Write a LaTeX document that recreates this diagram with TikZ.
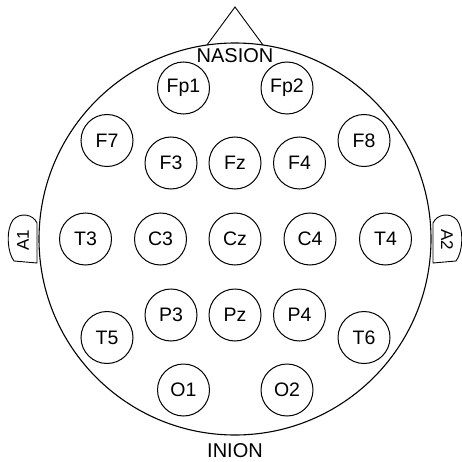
\documentclass[tikz,border=0pt]{standalone}
\usepackage{fontspec}
\setmainfont{Liberation Sans}
\begin{document}
\begin{tikzpicture}[x=1pt,y=-1pt,
  elec/.style={draw,circle,line width=1pt,minimum size=52pt,inner sep=0pt,font=\fontsize{19.5}{20}\selectfont},
  lbl/.style={inner sep=0pt,anchor=base,font=\fontsize{20}{21}\selectfont},
  earlbl/.style={inner sep=0pt,font=\fontsize{17}{18}\selectfont}]
\useasboundingbox (0,0) rectangle (462,462);
\fill[white] (0,0) rectangle (462,462);
% head
\node[draw,circle,line width=1.1pt,minimum size=392pt,inner sep=0pt] (head) at (235,239) {};
% nose
\coordinate (nl) at (207,45);
\coordinate (nr) at (263,45);
\coordinate (nt) at (235,7);
\draw[line width=0.9pt] (nl) -- (nt) -- (nr);
\node[lbl] (nasion) at (235,63) {NASION};
\node[lbl] (inion) at (235,457) {INION};
% electrodes
\node[elec] (Fp1) at (183.5,88) {Fp1};
\node[elec] (Fp2) at (287,88) {Fp2};
\node[elec] (F7) at (107,140.5) {F7};
\node[elec] (F8) at (364,140.5) {F8};
\node[elec] (F3) at (171,163) {F3};
\node[elec] (Fz) at (235,163) {Fz};
\node[elec] (F4) at (299.5,163) {F4};
\node[elec] (T3) at (85.5,239) {T3};
\node[elec] (C3) at (160.5,239) {C3};
\node[elec] (Cz) at (235,239) {Cz};
\node[elec] (C4) at (310,239) {C4};
\node[elec] (T4) at (385.5,239) {T4};
\node[elec] (P3) at (171,315) {P3};
\node[elec] (Pz) at (235,315) {Pz};
\node[elec] (P4) at (299.5,315) {P4};
\node[elec] (T5) at (107,337.5) {T5};
\node[elec] (T6) at (364,337.5) {T6};
\node[elec] (O1) at (183.5,390) {O1};
\node[elec] (O2) at (287,390) {O2};
% ears
\draw[line width=0.9pt] (37,223) .. controls (33,214) and (20,212) .. (13,220)
  .. controls (6,229) and (7,252) .. (14,261) -- (37,263) -- cycle;
\node[earlbl,rotate=90] (A1) at (23,240) {A1};
\draw[line width=0.9pt] (433,223) .. controls (437,214) and (450,212) .. (457,220)
  .. controls (464,229) and (463,252) .. (456,261) -- (433,263) -- cycle;
\node[earlbl,rotate=-90] (A2) at (447,240) {A2};
\end{tikzpicture}
\end{document}
